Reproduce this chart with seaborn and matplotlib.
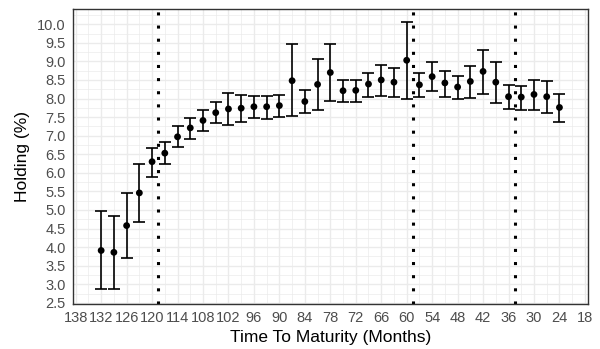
import matplotlib
matplotlib.use("Agg")
import matplotlib.pyplot as plt
from matplotlib.ticker import MultipleLocator, FixedLocator
import seaborn as sns
import pandas as pd

# ---- data ----
months = [132, 129, 126, 123, 120, 117, 114, 111, 108, 105, 102, 99, 96, 93, 90,
          87, 84, 81, 78, 75, 72, 69, 66, 63, 60, 57, 54, 51, 48, 45, 42, 39, 36,
          33, 30, 27, 24]
holding = [3.91, 3.86, 4.58, 5.46, 6.30, 6.53, 6.97, 7.21, 7.41, 7.62, 7.72, 7.74,
           7.78, 7.78, 7.81, 8.48, 7.92, 8.38, 8.70, 8.21, 8.22, 8.39, 8.50, 8.44,
           9.03, 8.37, 8.59, 8.42, 8.31, 8.46, 8.73, 8.44, 8.05, 8.04, 8.11, 8.05,
           7.76]
upper = [4.96, 4.85, 5.47, 6.24, 6.68, 6.82, 7.26, 7.48, 7.70, 7.91, 8.15, 8.10,
         8.08, 8.06, 8.10, 9.47, 8.22, 9.07, 9.48, 8.50, 8.50, 8.70, 8.91, 8.83,
         10.06, 8.68, 8.99, 8.74, 8.61, 8.87, 9.31, 8.98, 8.37, 8.35, 8.51, 8.48,
         8.13]
lower = [2.87, 2.88, 3.71, 4.69, 5.90, 6.25, 6.70, 6.92, 7.13, 7.34, 7.30, 7.37,
         7.47, 7.45, 7.50, 7.52, 7.61, 7.70, 7.93, 7.90, 7.92, 8.05, 8.08, 8.03,
         7.99, 8.05, 8.19, 8.05, 7.98, 8.02, 8.13, 7.88, 7.72, 7.70, 7.70, 7.61,
         7.38]
breaks = [118.5, 58.5, 34.5]
x_ticks = list(range(138, 17, -6))
y_ticks = [2.5 + 0.5 * i for i in range(16)]

df = pd.DataFrame({"month": months, "holding": holding,
                   "upper": upper, "lower": lower})

sns.set_theme(style="whitegrid")
plt.rcParams['font.family'] = ['Liberation Sans', 'DejaVu Sans']

fig = plt.figure(figsize=(6, 3.49), dpi=100)
ax = fig.add_axes([0.1212, 0.129, 0.8593, 0.8452])
ax.set_facecolor("white")

ax.errorbar(df["month"], df["holding"],
            yerr=[df["holding"] - df["lower"], df["upper"] - df["holding"]],
            fmt="none", ecolor="black", elinewidth=1.2, capsize=4.0,
            capthick=1.2, zorder=3)
sns.scatterplot(data=df, x="month", y="holding", color="black", s=24,
                edgecolor="none", ax=ax, zorder=4, legend=False)

for b in breaks:
    ax.axvline(b, color="black", linestyle=(0, (1, 3.3)), linewidth=2.2, zorder=2)

ax.set_xlim(138.7, 17.2)
ax.set_ylim(2.47, 10.41)
ax.xaxis.set_major_locator(FixedLocator(x_ticks))
ax.xaxis.set_minor_locator(MultipleLocator(3))
ax.yaxis.set_major_locator(FixedLocator(y_ticks))
ax.yaxis.set_minor_locator(MultipleLocator(0.25))
ax.set_xticklabels([str(t) for t in x_ticks])
ax.set_yticklabels([f"{t:.1f}" for t in y_ticks])

ax.grid(which="major", color="#EBEBEB", linewidth=1.0)
ax.grid(which="minor", color="#EBEBEB", linewidth=0.5)
ax.set_axisbelow(True)

for sp in ax.spines.values():
    sp.set_visible(True)
    sp.set_color("#333333")
    sp.set_linewidth(1.0)

ax.tick_params(axis="both", which="major", direction="out", length=3.5,
               width=0.9, color="#333333", labelsize=10.5,
               labelcolor="#4D4D4D", pad=1.5)
ax.tick_params(axis="both", which="minor", length=0)

ax.set_xlabel("Time To Maturity (Months)", fontsize=12.5, color="black", labelpad=3.5)
ax.set_ylabel("Holding (%)", fontsize=12.5, color="black", labelpad=5)

fig.savefig("out.png", dpi=100)
